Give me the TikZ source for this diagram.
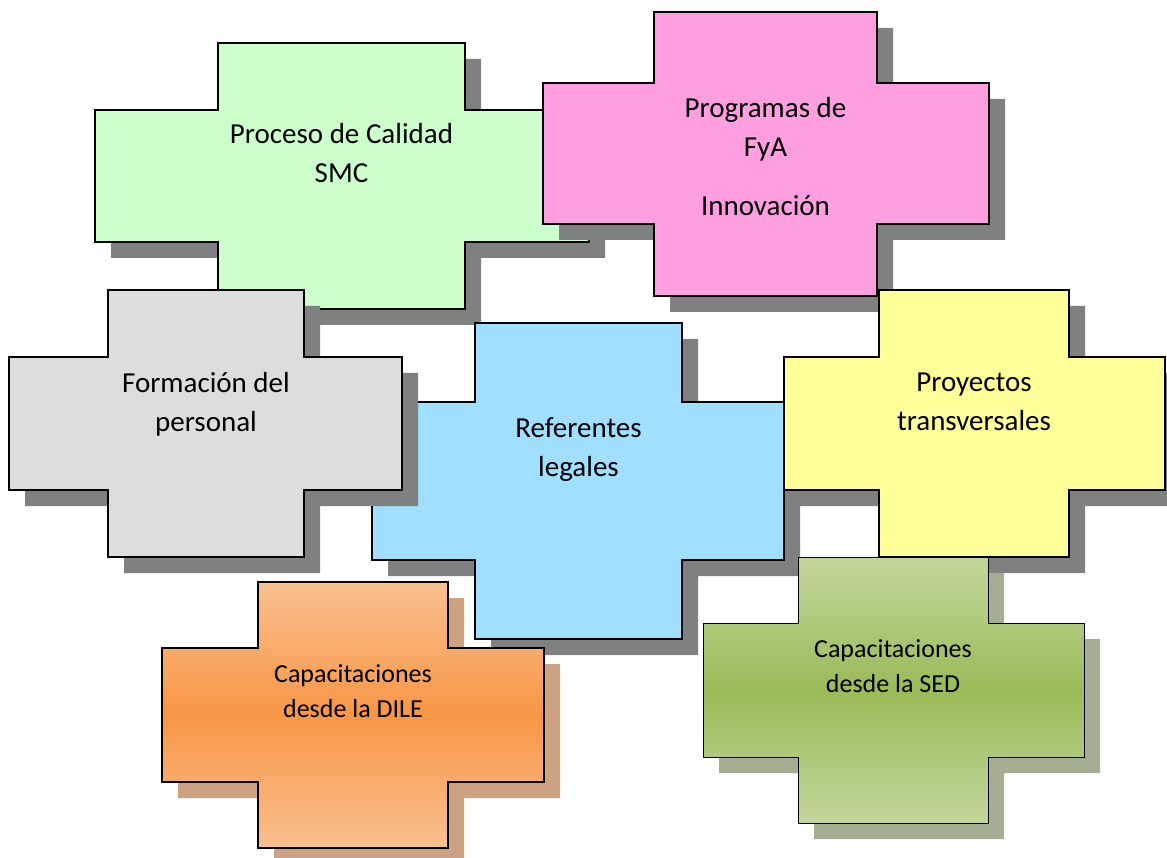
\documentclass[tikz,border=0pt]{standalone}
\usepackage{fontspec}
\setmainfont{Carlito}
\definecolor{cgreen}{HTML}{CCFFCC}
\definecolor{cpink}{HTML}{FF9FE0}
\definecolor{cgray}{HTML}{DDDDDD}
\definecolor{cblue}{HTML}{A0DFFF}
\definecolor{cyellow}{HTML}{FFFF99}
\definecolor{orangelight}{HTML}{FAC090}
\definecolor{orangedark}{HTML}{F79646}
\definecolor{olivelight}{HTML}{C3D69B}
\definecolor{olivedark}{HTML}{9BBB59}
\definecolor{shadowgray}{HTML}{808080}
\definecolor{shadoworange}{HTML}{CDA282}
\definecolor{shadowolive}{HTML}{A5AD92}
\newcommand\plusshape[9]{%
  \path[#1] (#2,#7) -- (#3,#7) -- (#3,#6) -- (#4,#6) -- (#4,#7) -- (#5,#7)
    -- (#5,#8) -- (#4,#8) -- (#4,#9) -- (#3,#9) -- (#3,#8) -- (#2,#8) -- cycle;}
\tikzset{
  crossbox/.style={draw=black, line width=1.5pt, line join=miter},
  shadowbox/.style={fill=#1, shift={(16,16)}},
  bigtext/.style={inner sep=0pt, align=center, anchor=north,
    font=\fontsize{29}{39}\selectfont},
  smalltext/.style={inner sep=0pt, align=center, anchor=north,
    font=\fontsize{26}{35}\selectfont},
}
\begin{document}
\begin{tikzpicture}[x=1pt, y=-1pt]
\useasboundingbox (0,0) rectangle (1167,858);
% green
\plusshape{shadowbox=shadowgray}{95}{218}{465}{589}{43}{110}{242}{309}
\plusshape{crossbox, fill=cgreen}{95}{218}{465}{589}{43}{110}{242}{309}
\node[bigtext] (calidad) at (341.5,123) {Proceso de Calidad\\SMC};
% pink
\plusshape{shadowbox=shadowgray}{543}{654}{877}{989}{12}{83}{224}{296}
\plusshape{crossbox, fill=cpink}{543}{654}{877}{989}{12}{83}{224}{296}
\node[bigtext] (fya) at (765.5,97) {Programas de\\FyA\\[20pt]Innovación};
% blue
\plusshape{shadowbox=shadowgray}{372}{475}{682}{784}{323}{402}{560}{639}
\plusshape{crossbox, fill=cblue}{372}{475}{682}{784}{323}{402}{560}{639}
\node[bigtext] (legales) at (578.5,417) {Referentes\\legales};
% gray
\plusshape{shadowbox=shadowgray}{9}{108}{304}{402}{290}{357}{490}{557}
\plusshape{crossbox, fill=cgray}{9}{108}{304}{402}{290}{357}{490}{557}
\node[bigtext] (formacion) at (206,372) {Formación del\\personal};
% yellow
\plusshape{shadowbox=shadowgray}{784}{879}{1069}{1165}{290}{357}{490}{557}
\plusshape{crossbox, fill=cyellow}{784}{879}{1069}{1165}{290}{357}{490}{557}
\node[bigtext] (proyectos) at (974,373) {Proyectos\\transversales};
% orange
\plusshape{shadowbox=shadoworange}{162}{258}{448}{544}{582}{648}{782}{848}
\plusshape{draw=black, line width=2.2pt, top color=orangelight, bottom color=orangelight, middle color=orangedark}{162}{258}{448}{544}{582}{648}{782}{848}
\node[smalltext] (dile) at (353,664) {Capacitaciones\\desde la DILE};
% olive
\plusshape{shadowbox=shadowolive}{703}{798}{988}{1084}{557}{623}{757}{823}
\plusshape{draw=black, line width=1pt, top color=olivelight, bottom color=olivelight, middle color=olivedark}{703}{798}{988}{1084}{557}{623}{757}{823}
\node[smalltext] (sed) at (893,639) {Capacitaciones\\desde la SED};
\end{tikzpicture}
\end{document}
